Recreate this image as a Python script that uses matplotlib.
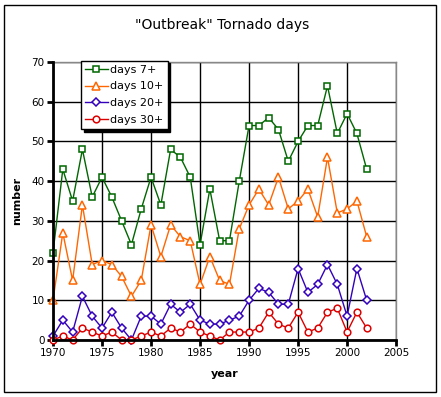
import matplotlib
matplotlib.use("Agg")
import matplotlib.pyplot as plt

years = list(range(1970, 2003))
days_7 = [22, 43, 35, 48, 36, 41, 36, 30, 24, 33, 41, 34, 48, 46, 41, 24, 38,
          25, 25, 40, 54, 54, 56, 53, 45, 50, 54, 54, 64, 52, 57, 52, 43]
days_10 = [10, 27, 15, 34, 19, 20, 19, 16, 11, 15, 29, 21, 29, 26, 25, 14, 21,
           15, 14, 28, 34, 38, 34, 41, 33, 35, 38, 31, 46, 32, 33, 35, 26]
days_20 = [1, 5, 2, 11, 6, 3, 7, 3, 0, 6, 6, 4, 9, 7, 9, 5, 4,
           4, 5, 6, 10, 13, 12, 9, 9, 18, 12, 14, 19, 14, 6, 18, 10]
days_30 = [0, 1, 0, 3, 2, 1, 2, 0, 0, 1, 2, 1, 3, 2, 4, 2, 1,
           0, 2, 2, 2, 3, 7, 4, 3, 7, 2, 3, 7, 8, 2, 7, 3]

series = [
    ("days 7+", days_7, "#006600", "s", 4.5),
    ("days 10+", days_10, "#ff6600", "^", 5.2),
    ("days 20+", days_20, "#3300bb", "D", 4.0),
    ("days 30+", days_30, "#dd0000", "o", 4.8),
]


def main():
    fig = plt.figure(figsize=(4.41, 3.97), dpi=100)
    ax = fig.add_axes([0.1202, 0.1436, 0.778, 0.7002])

    for label, vals, color, marker, ms in series:
        ax.plot(years, vals, color=color, lw=1.0, marker=marker, ms=ms,
                mfc="white", mec=color, mew=1.1, label=label, clip_on=False,
                zorder=3)

    ax.set_xlim(1970, 2005)
    ax.set_ylim(0, 70)
    ax.set_xticks(range(1970, 2006, 5))
    ax.set_yticks(range(0, 71, 10))
    ax.grid(True, color="black", lw=1.0)
    ax.set_axisbelow(True)

    for side in ["top", "right"]:
        ax.spines[side].set_color("#888888")
        ax.spines[side].set_linewidth(1.0)
    for side in ["left", "bottom"]:
        ax.spines[side].set_color("black")
        ax.spines[side].set_linewidth(2.0)
        ax.spines[side].set_zorder(4)

    ax.tick_params(axis="both", direction="out", length=4, width=2,
                   labelsize=7.5, pad=2)

    ax.set_xlabel("year", fontsize=8, fontweight="bold", labelpad=8)
    ax.set_ylabel("number", fontsize=8, fontweight="bold", labelpad=7)
    fig.text(0.5045, 0.937, '"Outbreak" Tornado days', fontsize=10,
             ha="center", va="center")

    leg = ax.legend(loc="upper left", bbox_to_anchor=(0.081, 1.005),
                    fontsize=8, frameon=True, fancybox=False,
                    shadow={"color": "black", "alpha": 1.0},
                    borderpad=0.35, labelspacing=0.62, handlelength=2.1,
                    handletextpad=0.2, borderaxespad=0)
    leg.get_frame().set_edgecolor("black")
    leg.get_frame().set_linewidth(1.0)
    leg.set_zorder(5)

    # outer frame round the whole chart
    fig.patches.append(plt.Rectangle((4 / 441, 5 / 397), 432 / 441, 387 / 397,
                                     transform=fig.transFigure, fill=False,
                                     edgecolor="black", lw=1.0))

    fig.savefig("out.png", dpi=100)


if __name__ == "__main__":
    main()
